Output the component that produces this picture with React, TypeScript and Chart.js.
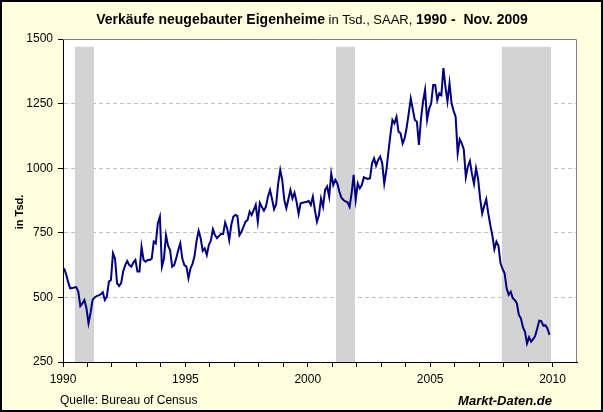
import React, { useEffect, useRef } from 'react';
import { Chart, registerables } from 'chart.js';

Chart.register(...registerables);

const FONT = '"Liberation Sans", Arial, sans-serif';

// Monthly new single-family home sales (thousands, SAAR), Jan 1990 - Nov 2009
const START_YEAR = 1990;
const sales1990 = [613, 590, 560, 535, 536, 538, 540, 522, 467, 477, 490, 458];
const sales1991 = [400, 440, 490, 500, 505, 508, 512, 520, 490, 503, 561, 567];
const sales1992 = [671, 651, 555, 544, 555, 600, 625, 641, 625, 619, 635, 645];
const sales1993 = [600, 600, 696, 645, 638, 645, 645, 650, 716, 709, 787, 812];
const sales1994 = [619, 650, 741, 700, 683, 619, 625, 651, 683, 709, 650, 625];
const sales1995 = [619, 574, 612, 630, 660, 720, 758, 729, 680, 690, 664, 703];
const sales1996 = [720, 764, 741, 729, 738, 745, 745, 790, 767, 722, 780, 812];
const sales1997 = [819, 815, 741, 754, 774, 793, 800, 832, 819, 838, 858, 793];
const sales1998 = [866, 850, 836, 851, 890, 916, 880, 841, 860, 941, 993, 954];
const sales1999 = [877, 845, 880, 916, 883, 905, 870, 823, 864, 866, 868, 870];
const sales2000 = [873, 858, 890, 838, 793, 819, 883, 851, 916, 929, 890, 980];
const sales2001 = [935, 955, 941, 909, 886, 877, 872, 868, 851, 903, 974, 877];
const sales2002 = [941, 922, 935, 965, 961, 958, 961, 1019, 1038, 1010, 1032, 1045];
const sales2003 = [1019, 941, 990, 1060, 1128, 1187, 1174, 1199, 1141, 1135, 1096, 1116];
const sales2004 = [1158, 1212, 1270, 1228, 1187, 1180, 1090, 1190, 1257, 1303, 1187, 1230];
const sales2005 = [1250, 1322, 1322, 1264, 1290, 1283, 1387, 1315, 1258, 1329, 1251, 1222];
const sales2006 = [1199, 1058, 1112, 1096, 1073, 965, 1006, 1028, 978, 939, 1000, 960];
const sales2007 = [883, 825, 854, 880, 825, 780, 740, 686, 716, 700, 632, 610];
const sales2008 = [593, 535, 510, 522, 497, 490, 477, 432, 419, 385, 367, 322];
const sales2009 = [346, 329, 338, 351, 380, 410, 408, 390, 393, 380, 355];

const salesByYear = [
  sales1990, sales1991, sales1992, sales1993, sales1994, sales1995, sales1996,
  sales1997, sales1998, sales1999, sales2000, sales2001, sales2002, sales2003,
  sales2004, sales2005, sales2006, sales2007, sales2008, sales2009,
];

// Recessions (shaded)
const recessionStart = [1990.5, 2001.17, 2007.92];
const recessionEnd = [1991.25, 2001.92, 2009.92];
const recessionTop = 1470;

// Axes
const yTickValues = [250, 500, 750, 1000, 1250, 1500];
const xTickYears = [1990, 1991, 1992, 1993, 1994, 1995, 1996, 1997, 1998, 1999, 2000,
  2001, 2002, 2003, 2004, 2005, 2006, 2007, 2008, 2009, 2010];
const xLabelYears = [1990, 1995, 2000, 2005, 2010];
const X_MIN = 1990;
const X_MAX = 2011;
const Y_MIN = 250;
const Y_MAX = 1500;

const titleBold1 = 'Verkäufe neugebauter Eigenheime';
const titleNormal = ' in Tsd., SAAR, ';
const titleBold2 = '1990 -  Nov. 2009';
const yAxisTitle = 'in Tsd.';
const sourceText = 'Quelle: Bureau of Census';
const brandText = 'Markt-Daten.de';

const decorPlugin = {
  id: 'decor',
  beforeDraw(chart: any) {
    const { ctx, width, height, chartArea } = chart;
    ctx.save();
    ctx.fillStyle = '#FFFFE0';
    ctx.fillRect(0, 0, width, height);
    ctx.strokeStyle = '#000';
    ctx.lineWidth = 2;
    ctx.strokeRect(1, 1, width - 2, height - 2);
    ctx.fillStyle = '#FFFFFF';
    ctx.fillRect(chartArea.left, chartArea.top, chartArea.right - chartArea.left, chartArea.bottom - chartArea.top);
    ctx.restore();
  },
  beforeDatasetsDraw(chart: any) {
    const { ctx, chartArea, scales } = chart;
    const xs = scales.x;
    const ys = scales.y;
    ctx.save();
    ctx.fillStyle = '#D3D3D3';
    const top = ys.getPixelForValue(recessionTop);
    for (let i = 0; i < recessionStart.length; i++) {
      const x1 = Math.round(xs.getPixelForValue(recessionStart[i]));
      const x2 = Math.round(xs.getPixelForValue(recessionEnd[i]));
      ctx.fillRect(x1, top, x2 - x1, chartArea.bottom - top);
    }
    ctx.strokeStyle = '#808080';
    ctx.lineWidth = 1;
    ctx.beginPath();
    ctx.moveTo(chartArea.left, chartArea.top + 0.5);
    ctx.lineTo(chartArea.right - 0.5, chartArea.top + 0.5);
    ctx.lineTo(chartArea.right - 0.5, chartArea.bottom);
    ctx.stroke();
    ctx.restore();
  },
  afterDraw(chart: any) {
    const { ctx } = chart;
    ctx.save();
    ctx.fillStyle = '#000';
    ctx.textBaseline = 'alphabetic';
    const fB = `bold 14px ${FONT}`;
    const fN = `13px ${FONT}`;
    ctx.font = fB;
    const w1 = ctx.measureText(titleBold1).width;
    const w3 = ctx.measureText(titleBold2).width;
    ctx.font = fN;
    const w2 = ctx.measureText(titleNormal).width;
    let x = 312 - (w1 + w2 + w3) / 2;
    const ty = 24;
    ctx.textAlign = 'left';
    ctx.font = fB;
    ctx.fillText(titleBold1, x, ty);
    x += w1;
    ctx.font = fN;
    ctx.fillText(titleNormal, x, ty);
    x += w2;
    ctx.font = fB;
    ctx.fillText(titleBold2, x, ty);

    // y axis title
    ctx.save();
    ctx.translate(23, 212);
    ctx.rotate(-Math.PI / 2);
    ctx.font = `bold 11px ${FONT}`;
    ctx.textAlign = 'center';
    ctx.fillText(yAxisTitle, 0, 0);
    ctx.restore();

    // footer
    ctx.font = `12px ${FONT}`;
    ctx.textAlign = 'left';
    ctx.fillText(sourceText, 60, 404);
    ctx.font = `italic bold 13px ${FONT}`;
    ctx.textAlign = 'right';
    ctx.fillText(brandText, 552, 405);
    ctx.restore();
  },
};

export default function App() {
  const canvasRef = useRef<HTMLCanvasElement | null>(null);

  useEffect(() => {
    const canvas = canvasRef.current;
    if (!canvas) return;
    const points: { x: number; y: number }[] = [];
    salesByYear.forEach((arr, yi) => {
      arr.forEach((v, mi) => {
        points.push({ x: START_YEAR + yi + (mi + 0.5) / 12, y: v });
      });
    });

    const chart = new Chart(canvas, {
      type: 'line',
      data: {
        datasets: [
          {
            data: points,
            borderColor: '#000080',
            borderWidth: 2,
            pointRadius: 0,
            tension: 0,
            fill: false,
          },
        ],
      },
      options: {
        animation: false,
        responsive: false,
        devicePixelRatio: 1,
        layout: { padding: { left: 0, right: 26, top: 39, bottom: 0 } },
        plugins: {
          legend: { display: false },
          tooltip: { enabled: false },
          title: { display: false },
        },
        scales: {
          x: {
            type: 'linear',
            min: X_MIN,
            max: X_MAX,
            afterBuildTicks: (s: any) => {
              s.ticks = xTickYears.map((v) => ({ value: v }));
            },
            afterFit: (s: any) => {
              s.height = 50;
            },
            ticks: {
              autoSkip: false,
              maxRotation: 0,
              padding: 5,
              color: '#000',
              font: { family: FONT, size: 12 },
              callback: (v: any) => (xLabelYears.includes(Number(v)) ? String(v) : ''),
            },
            grid: {
              drawOnChartArea: false,
              drawTicks: true,
              tickLength: 5,
              tickColor: '#000',
              color: '#000',
            },
            border: { color: '#000', width: 1 },
          },
          y: {
            type: 'linear',
            min: Y_MIN,
            max: Y_MAX,
            afterBuildTicks: (s: any) => {
              s.ticks = yTickValues.map((v) => ({ value: v }));
            },
            afterFit: (s: any) => {
              s.width = 63;
            },
            ticks: {
              padding: 5,
              color: '#000',
              font: { family: FONT, size: 12 },
              callback: (v: any) => String(v),
            },
            grid: {
              drawTicks: true,
              tickLength: 5,
              tickColor: '#000',
              color: (ctx: any) => {
                const v = ctx.tick ? ctx.tick.value : 0;
                return v > Y_MIN && v < Y_MAX ? '#C0C0C0' : 'rgba(0,0,0,0)';
              },
            },
            border: { color: '#000', width: 1, dash: [4, 3] },
          },
        },
      },
      plugins: [decorPlugin],
    } as any);

    return () => chart.destroy();
  }, []);

  return (
    <div style={{ position: 'fixed', left: 0, top: 0, width: 603, height: 412 }}>
      <canvas ref={canvasRef} width={603} height={412} style={{ display: 'block' }} />
    </div>
  );
}
